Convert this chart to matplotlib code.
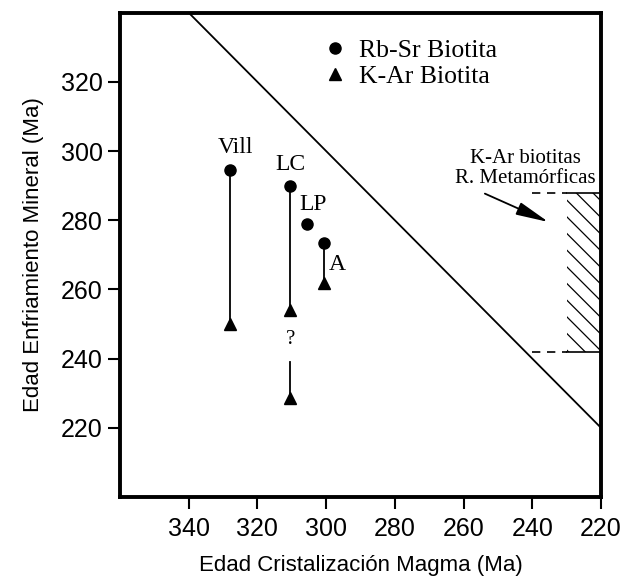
import matplotlib
matplotlib.use('Agg')
import matplotlib.pyplot as plt
from matplotlib.lines import Line2D

# data
names = ['Vill', 'LC', 'LP', 'A']
cryst_age = [328, 310.5, 305.5, 300.5]       # Edad cristalizacion magma (Ma)
rbsr_age = [294.5, 290, 279, 273.5]          # Rb-Sr biotita
kar_x = [328, 310.5, 310.5, 300.5]           # K-Ar biotita
kar_age = [250, 254, 228.5, 262]
# cooling paths (Rb-Sr -> K-Ar)
path_x = [328, 310.5, 300.5]
path_top = [294.5, 290, 273.5]
path_bot = [250, 254, 262]
# uncertain LC segment below the "?"
lc_low_top = 239
lc_low_bot = 228.5

# label positions
label_x = [326.5, 310.5, 303.7, 296.9]
label_y = [301, 296, 284.5, 267.2]

# reference line y = x
ref_line = [340, 220]

# metamorphic K-Ar biotite range
meta_x = [230, 220]
meta_dash_x = [240, 230]
meta_y = [242, 288]

xticks = [340, 320, 300, 280, 260, 240, 220]
yticks = [220, 240, 260, 280, 300, 320]

plt.rcParams['font.family'] = 'Liberation Sans'
plt.rcParams['hatch.linewidth'] = 0.9
serif = 'Liberation Serif'

fig = plt.figure(figsize=(6.22, 5.80), dpi=100)
ax = fig.add_axes([120/622, 1 - 497/580, 481/622, (497 - 12.7)/580])

# diagonal y = x
ax.plot(ref_line, ref_line, color='black', lw=1.3)

# vertical cooling paths
for x, t, b in zip(path_x, path_top, path_bot):
    ax.plot([x, x], [t, b], color='black', lw=1.3)
ax.plot([cryst_age[1], cryst_age[1]], [lc_low_top, lc_low_bot], color='black', lw=1.3)

ax.plot(cryst_age, rbsr_age, 'o', color='black', ms=8, zorder=3)
ax.plot(kar_x, kar_age, '^', color='black', ms=9, zorder=3)

for n, x, y in zip(names, label_x, label_y):
    ax.text(x, y, n, family=serif, fontsize=17, ha='center', va='center')
ax.text(cryst_age[1], 245.5, '?', family=serif, fontsize=15, ha='center', va='center')

# hatched metamorphic box
ax.fill_between(meta_x, meta_y[0], meta_y[1], facecolor='none', edgecolor='black',
                hatch='\\\\', linewidth=0)
for y in meta_y:
    ax.plot(meta_x, [y, y], color='black', lw=1.2)
    ax.plot(meta_dash_x, [y, y], color='black', lw=1.2, ls=(0, (5, 4)))

ax.text(242, 297.9, 'K-Ar biotitas', family=serif, fontsize=15, ha='center', va='center')
ax.text(242, 292.1, 'R. Metamórficas', family=serif, fontsize=15, ha='center', va='center')
ax.annotate('', xy=(235.3, 279.5), xytext=(253.8, 287.7),
            arrowprops=dict(arrowstyle='-|>,head_length=1.0,head_width=0.2',
                            mutation_scale=20, color='black', lw=1.3,
                            shrinkA=0, shrinkB=0))

# legend
handles = [Line2D([], [], marker='o', ls='none', color='black', ms=8),
           Line2D([], [], marker='^', ls='none', color='black', ms=9)]
ax.legend(handles, ['Rb-Sr Biotita', 'K-Ar Biotita'], loc='upper left',
          bbox_to_anchor=(0.373, 0.993), frameon=False,
          prop={'family': serif, 'size': 18.5}, handlelength=1.0,
          handletextpad=0.4, labelspacing=0.1, borderpad=0.4)

ax.set_xlim(360, 220)
ax.set_ylim(200, 340)
ax.set_xticks(xticks)
ax.set_yticks(yticks)
ax.tick_params(direction='out', length=8.5, width=1.5, labelsize=18, pad=4)
ax.tick_params(axis='x', pad=6)
for s in ax.spines.values():
    s.set_linewidth(2.8)

ax.set_xlabel('Edad Cristalización Magma (Ma)', fontsize=16, labelpad=10)
ax.set_ylabel('Edad Enfriamiento Mineral (Ma)', fontsize=16, labelpad=12)

fig.savefig('out.png', dpi=100)
